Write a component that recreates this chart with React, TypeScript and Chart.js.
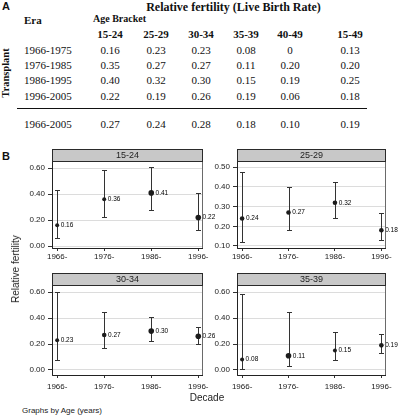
import React, { useEffect, useRef } from "react";
import { Chart, registerables } from "chart.js";

Chart.register(...registerables);

// ---------- Table (panel A) data ----------
const tableTitle = "Relative fertility (Live Birth Rate)";
const ageBrackets = ["15-24", "25-29", "30-34", "35-39", "40-49", "15-49"];
const eras = ["1966-1975", "1976-1985", "1986-1995", "1996-2005"];
const era1966 = ["0.16", "0.23", "0.23", "0.08", "0", "0.13"];
const era1976 = ["0.35", "0.27", "0.27", "0.11", "0.20", "0.20"];
const era1986 = ["0.40", "0.32", "0.30", "0.15", "0.19", "0.25"];
const era1996 = ["0.22", "0.19", "0.26", "0.19", "0.06", "0.18"];
const totalEra = "1966-2005";
const totalValues = ["0.27", "0.24", "0.28", "0.18", "0.10", "0.19"];

// ---------- Chart (panel B) data ----------
const decades = [1966, 1976, 1986, 1996];
const decadeLabels = ["1966-", "1976-", "1986-", "1996-"];
const panelTitles = ["15-24", "25-29", "30-34", "35-39"];

const est1524 = [0.16, 0.36, 0.41, 0.22];
const lo1524 = [0.06, 0.22, 0.28, 0.12];
const hi1524 = [0.43, 0.59, 0.61, 0.41];

const est2529 = [0.24, 0.27, 0.32, 0.18];
const lo2529 = [0.12, 0.18, 0.24, 0.13];
const hi2529 = [0.475, 0.4, 0.425, 0.27];

const est3034 = [0.23, 0.27, 0.3, 0.26];
const lo3034 = [0.08, 0.17, 0.22, 0.2];
const hi3034 = [0.6, 0.45, 0.41, 0.33];

const est3539 = [0.08, 0.11, 0.15, 0.19];
const lo3539 = [0.01, 0.03, 0.08, 0.13];
const hi3539 = [0.59, 0.45, 0.29, 0.28];

const yTicksA = [0, 0.2, 0.4, 0.6];
const yTicksB = [0.1, 0.2, 0.3, 0.4, 0.5];

// ---------- layout / style ----------
const SANS = "'Liberation Sans', Arial, sans-serif";
const SERIF = "'Liberation Serif', 'Times New Roman', serif";

const panels = [
  { title: panelTitles[0], est: est1524, lo: lo1524, hi: hi1524, yTicks: yTicksA, yMin: -0.0154, yMax: 0.656,
    left: 20, top: 145, width: 195, height: 117, padTop: 16, padRight: 12, xPad: 1, radii: [2, 2, 2.8, 2.8] },
  { title: panelTitles[1], est: est2529, lo: lo2529, hi: hi2529, yTicks: yTicksB, yMin: 0.0898, yMax: 0.532,
    left: 205, top: 145, width: 195, height: 117, padTop: 16, padRight: 14, xPad: 1, radii: [2.3, 2.3, 2.3, 2.3] },
  { title: panelTitles[2], est: est3034, lo: lo3034, hi: hi3034, yTicks: yTicksA, yMin: -0.039, yMax: 0.656,
    left: 20, top: 268, width: 195, height: 121, padTop: 17, padRight: 12, xPad: 4, radii: [2, 2.3, 2.8, 2.8] },
  { title: panelTitles[3], est: est3539, lo: lo3539, hi: hi3539, yTicks: yTicksA, yMin: -0.039, yMax: 0.656,
    left: 205, top: 268, width: 195, height: 121, padTop: 17, padRight: 14, xPad: 4, radii: [2, 2.8, 2, 2.3] },
];

function Panel({ p }: { p: any }) {
  const ref = useRef<HTMLCanvasElement | null>(null);
  useEffect(() => {
    if (!ref.current) return;
    const deco = {
      id: "deco",
      beforeDatasetsDraw(chart: any) {
        const { ctx, scales } = chart;
        const x = scales.x, y = scales.y;
        ctx.save();
        ctx.strokeStyle = "#333";
        ctx.lineWidth = 1;
        decades.forEach((d, i) => {
          const px = Math.round(x.getPixelForValue(d)) + 0.5;
          const y1 = Math.round(y.getPixelForValue(p.lo[i])) + 0.5;
          const y2 = Math.round(y.getPixelForValue(p.hi[i])) + 0.5;
          ctx.beginPath();
          ctx.moveTo(px, y1); ctx.lineTo(px, y2);
          ctx.moveTo(px - 2.5, y1); ctx.lineTo(px + 2.5, y1);
          ctx.moveTo(px - 2.5, y2); ctx.lineTo(px + 2.5, y2);
          ctx.stroke();
        });
        ctx.restore();
      },
      afterDatasetsDraw(chart: any) {
        const { ctx, scales } = chart;
        const x = scales.x, y = scales.y;
        ctx.save();
        ctx.font = `6.5px ${SANS}`;
        ctx.fillStyle = "#000";
        ctx.textAlign = "left";
        ctx.textBaseline = "middle";
        decades.forEach((d, i) => {
          const px = x.getPixelForValue(d);
          const py = y.getPixelForValue(p.est[i]);
          ctx.fillText(p.est[i].toFixed(2), px + p.radii[i] + 1.5, py);
        });
        ctx.restore();
      },
      afterDraw(chart: any) {
        const { ctx, chartArea: a } = chart;
        ctx.save();
        // frame
        ctx.strokeStyle = "#6a6a6a";
        ctx.lineWidth = 1;
        ctx.strokeRect(a.left + 0.5, a.top + 0.5, a.right - a.left - 1, a.bottom - a.top);
        ctx.strokeStyle = "#222";
        ctx.beginPath();
        ctx.moveTo(a.left + 0.5, a.top);
        ctx.lineTo(a.left + 0.5, a.bottom + 0.5);
        ctx.lineTo(a.right, a.bottom + 0.5);
        ctx.stroke();
        // strip
        const sh = 12;
        ctx.fillStyle = "#c8c8c8";
        ctx.fillRect(a.left, a.top - sh, a.right - a.left, sh);
        ctx.strokeStyle = "#2a2a2a";
        ctx.strokeRect(a.left + 0.5, a.top - sh + 0.5, a.right - a.left - 1, sh);
        ctx.fillStyle = "#222";
        ctx.font = `9px ${SANS}`;
        ctx.textAlign = "center";
        ctx.textBaseline = "middle";
        ctx.fillText(p.title, (a.left + a.right) / 2, a.top - sh / 2 + 0.5);
        ctx.restore();
      },
    };
    const chart = new Chart(ref.current, {
      type: "scatter",
      data: {
        datasets: [
          {
            data: decades.map((d, i) => ({ x: d, y: p.est[i] })),
            pointRadius: p.radii,
            pointHoverRadius: p.radii,
            backgroundColor: "#1c1c1c",
            borderColor: "#1c1c1c",
            borderWidth: 0,
            clip: false,
          } as any,
        ],
      },
      options: {
        animation: false,
        responsive: false,
        events: [],
        layout: { padding: { top: p.padTop, right: p.padRight, left: 0, bottom: 0 } },
        plugins: { legend: { display: false }, tooltip: { enabled: false }, title: { display: false } },
        scales: {
          x: {
            type: "linear",
            min: 1964.9,
            max: 1997.0,
            bounds: "data",
            afterBuildTicks: (s: any) => { s.ticks = decades.map((v) => ({ value: v })); },
            afterFit: (s: any) => { s.height = 14; },
            ticks: {
              autoSkip: false,
              maxRotation: 0,
              minRotation: 0,
              padding: p.xPad,
              color: "#1a1a1a",
              font: { size: 8, family: SANS },
              callback: (v: any) => decadeLabels[decades.indexOf(Number(v))],
            },
            grid: { display: true, drawOnChartArea: false, drawTicks: true, tickLength: 3, tickColor: "#333" },
            border: { display: false },
          },
          y: {
            type: "linear",
            min: p.yMin,
            max: p.yMax,
            bounds: "data",
            afterBuildTicks: (s: any) => { s.ticks = p.yTicks.map((v: number) => ({ value: v })); },
            afterFit: (s: any) => { s.width = 32; },
            ticks: {
              autoSkip: false,
              padding: 3,
              color: "#1a1a1a",
              font: { size: 8, family: SANS },
              callback: (v: any) => Number(v).toFixed(2),
            },
            grid: { display: true, drawOnChartArea: true, color: "#dcdcdc", drawTicks: true, tickLength: 4, tickColor: "#333" },
            border: { display: false },
          },
        },
      } as any,
      plugins: [deco],
    });
    return () => chart.destroy();
  }, []);
  return (
    <canvas
      ref={ref}
      width={p.width}
      height={p.height}
      style={{ position: "absolute", left: p.left, top: p.top, width: p.width, height: p.height }}
    />
  );
}

function T({ x, y, children, style, align = "center", rotate = false }: any) {
  const tr = align === "center" ? "translate(-50%,-50%)" : "translate(0,-50%)";
  return (
    <div
      style={{
        position: "absolute",
        left: x,
        top: y,
        transform: rotate ? "translate(-50%,-50%) rotate(-90deg)" : tr,
        whiteSpace: "nowrap",
        lineHeight: 1,
        color: "#111",
        ...style,
      }}
    >
      {children}
    </div>
  );
}

const colX = [110, 156, 201, 246, 290, 350];
const rowY = [50, 64.5, 80, 96];
const eraRows = [era1966, era1976, era1986, era1996];

export default function App() {
  const serif = { fontFamily: SERIF, fontSize: 11 };
  const serifB = { fontFamily: SERIF, fontSize: 11, fontWeight: "bold" };
  return (
    <div style={{ position: "absolute", left: 0, top: 0, width: 400, height: 415, background: "#fff", overflow: "hidden" }}>
      {/* Panel A: table */}
      <T x={2} y={6} align="left" style={{ fontFamily: SANS, fontSize: 11, fontWeight: "bold" }}>A</T>
      <T x={233.5} y={7} style={{ fontFamily: SERIF, fontSize: 12, fontWeight: "bold" }}>{tableTitle}</T>
      <T x={24} y={19.5} align="left" style={serifB}>Era</T>
      <T x={93} y={19} align="left" style={{ fontFamily: SERIF, fontSize: 10, fontWeight: "bold" }}>Age Bracket</T>
      {ageBrackets.map((a, i) => (
        <T key={"h" + i} x={colX[i]} y={34} style={serifB}>{a}</T>
      ))}
      <T x={5.5} y={73} rotate style={{ fontFamily: SERIF, fontSize: 10.5, fontWeight: "bold" }}>Transplant</T>
      {eras.map((e, r) => (
        <React.Fragment key={"r" + r}>
          <T x={24} y={rowY[r]} align="left" style={serif}>{e}</T>
          {eraRows[r].map((v, i) => (
            <T key={"v" + i} x={colX[i]} y={rowY[r]} style={serif}>{v}</T>
          ))}
        </React.Fragment>
      ))}
      <div style={{ position: "absolute", left: 17, top: 108, width: 350, height: 1, background: "#111" }} />
      <T x={24} y={123.5} align="left" style={serif}>{totalEra}</T>
      {totalValues.map((v, i) => (
        <T key={"t" + i} x={colX[i]} y={123.5} style={serif}>{v}</T>
      ))}

      {/* Panel B: charts */}
      <T x={2} y={156} align="left" style={{ fontFamily: SANS, fontSize: 11, fontWeight: "bold" }}>B</T>
      {panels.map((p, i) => (
        <Panel key={i} p={p} />
      ))}
      <T x={16} y={269} rotate style={{ fontFamily: SANS, fontSize: 10, color: "#222" }}>Relative fertility</T>
      <T x={207} y={398} style={{ fontFamily: SANS, fontSize: 10, color: "#222" }}>Decade</T>
      <T x={22} y={410.5} align="left" style={{ fontFamily: SANS, fontSize: 8, color: "#222" }}>Graphs by Age (years)</T>
    </div>
  );
}
